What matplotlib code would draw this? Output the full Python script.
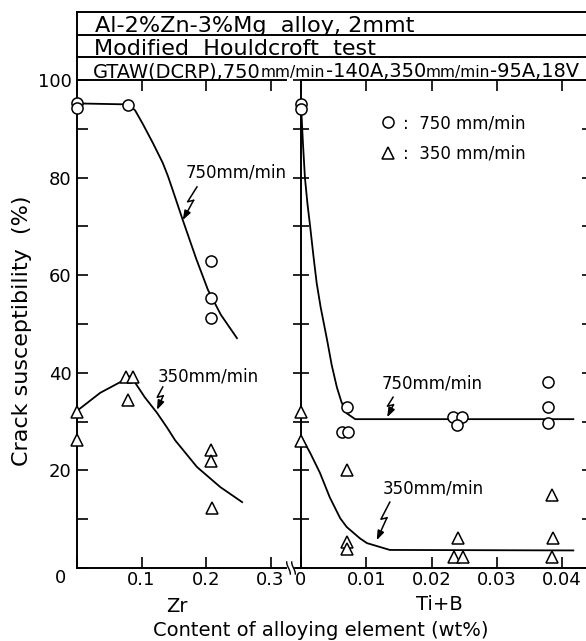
import matplotlib
matplotlib.use('Agg')
import matplotlib.pyplot as plt
from matplotlib.lines import Line2D
import numpy as np

# measured points, Zr panel
zr_750_x = [0, 0, 0.079, 0.208, 0.208, 0.208]
zr_750_y = [95.3, 94.3, 94.9, 62.9, 55.3, 51.2]
zr_350_x = [0, 0, 0.076, 0.087, 0.079, 0.208, 0.208, 0.210]
zr_350_y = [32, 26.2, 39.1, 39.1, 34.4, 24.2, 21.9, 12.3]

# hand drawn trend curves, Zr panel
zr_750_fit_x = [0, 0.079, 0.09, 0.102, 0.118, 0.133, 0.141, 0.148, 0.164, 0.185, 0.203, 0.223, 0.248]
zr_750_fit_y = [95.2, 95, 93.8, 91, 87, 83, 80.3, 77.6, 71.3, 63.3, 57, 51.9, 47.1]
zr_350_fit_x = [0, 0.036, 0.07, 0.082, 0.09, 0.105, 0.124, 0.14, 0.152, 0.186, 0.222, 0.256]
zr_350_fit_y = [32.2, 35.9, 38.3, 39.3, 38, 35, 31.8, 28.7, 26.2, 20.7, 16.6, 13.5]

# measured points, Ti+B panel
tib_750_x = [0, 0, 0.007, 0.0063, 0.0072, 0.0233, 0.0247, 0.0239, 0.0378, 0.0378, 0.0378]
tib_750_y = [95.1, 94.1, 33, 27.9, 27.9, 30.9, 30.9, 29.3, 38.1, 33, 29.7]
tib_350_x = [0, 0, 0.007, 0.007, 0.007, 0.024, 0.0234, 0.0248, 0.0385, 0.0386, 0.0385]
tib_350_y = [32, 26, 20.1, 5.3, 3.9, 6.1, 2.3, 2.3, 15, 6.1, 2.3]

# trend curves, Ti+B panel
tib_750_fit_x = [0, 0.0003, 0.0006, 0.001, 0.0014, 0.0019, 0.0024, 0.003, 0.004, 0.0047, 0.0055, 0.0062, 0.007, 0.0083, 0.0417]
tib_750_fit_y = [95, 87, 80, 74.5, 70, 64, 58.4, 53.5, 46.7, 41.6, 37, 34, 31.7, 30.5, 30.5]
tib_350_fit_x = [0, 0.0014, 0.0029, 0.0044, 0.006, 0.007, 0.009, 0.0101, 0.0136, 0.0417]
tib_350_fit_y = [27, 23.6, 19.5, 14.5, 10.2, 8.4, 6.1, 5.1, 3.7, 3.6]

zr_ticks = [0, 0.1, 0.2, 0.3]
zr_labels = ['', '0.1', '0.2', '0.3']
tib_ticks = [0, 0.01, 0.02, 0.03, 0.04]
tib_labels = ['0', '0.01', '0.02', '0.03', '0.04']
y_ticks = list(range(0, 101, 10))
y_labels = ['' if v in (0, 10, 30, 50, 70, 90) else str(v) for v in y_ticks]

header_rows = [
    [('Al-2%Zn-3%Mg  alloy, 2mmt', 1.0)],
    [('Modified  Houldcroft  test', 1.0)],
    [('GTAW(DCRP),750', 1.0), ('mm/min', 0.8), ('-140A,350', 1.0), ('mm/min', 0.8), ('-95A,18V', 1.0)],
]

W, H = 586, 641
fig = plt.figure(figsize=(W / 100, H / 100), dpi=100)
renderer = fig.canvas.get_renderer()


def fx(px):
    return px / W


def fy(py):
    return 1 - py / H


def fig_line(xs, ys, lw=1.4):
    fig.add_artist(Line2D([fx(x) for x in xs], [fy(y) for y in ys], color='black', lw=lw))


def bolt(ax, start, end):
    # lightning-style pointer used in the original drawing
    p0 = ax.transData.transform(start)
    p3 = ax.transData.transform(end)
    d = p3 - p0
    p1 = p0 + 0.45 * d + np.array([-3, 0])
    p2 = p1 + np.array([6, 1.5])
    inv = ax.transData.inverted()
    q = inv.transform(np.array([p0, p1, p2]))
    ax.plot(q[:, 0], q[:, 1], color='black', lw=1.1, clip_on=False)
    ax.annotate('', xy=end, xytext=q[2],
                arrowprops=dict(arrowstyle='-|>,head_length=0.55,head_width=0.2',
                                color='black', lw=1.1, shrinkA=0, shrinkB=0))


def put_row(pieces, x0, y_base, width):
    base = 10
    texts = [fig.text(0, 0, s, fontsize=base * r, va='baseline') for s, r in pieces]
    widths = [t.get_window_extent(renderer).width for t in texts]
    k = width / sum(widths)
    x = x0
    for t, (s, r), w in zip(texts, pieces, widths):
        t.set_fontsize(base * r * k)
        t.set_position((fx(x), fy(y_base)))
        x += w * k


ax1 = fig.add_axes([fx(77), fy(568), fx(286) - fx(77), fy(80) - fy(568)])
ax2 = fig.add_axes([fx(301), fy(568), fx(590) - fx(301), fy(80) - fy(568)])

ax1.set_xlim(0, (286 - 77) / 645)
ax2.set_xlim(0, (590 - 301) / 6530)
for ax in (ax1, ax2):
    ax.set_ylim(0, 100)
    for sp in ax.spines.values():
        sp.set_linewidth(1.4)
ax1.spines['right'].set_visible(False)

mk = dict(ls='none', mfc='white', mec='black', mew=1.1, clip_on=False, zorder=3)
ln = dict(color='black', lw=1.3, zorder=2, clip_on=False)

ax1.plot(zr_750_fit_x, zr_750_fit_y, **ln)
ax1.plot(zr_350_fit_x, zr_350_fit_y, **ln)
ax1.plot(zr_750_x, zr_750_y, marker='o', ms=8, **mk)
ax1.plot(zr_350_x, zr_350_y, marker='^', ms=8.5, **mk)

ax2.plot(tib_750_fit_x, tib_750_fit_y, **ln)
ax2.plot(tib_350_fit_x, tib_350_fit_y, **ln)
ax2.plot(tib_750_x, tib_750_y, marker='o', ms=8, **mk)
ax2.plot(tib_350_x, tib_350_y, marker='^', ms=8.5, **mk)

# ticks
ax1.set_xticks(zr_ticks)
ax1.set_xticklabels(zr_labels, fontsize=13)
ax1.set_yticks(y_ticks)
ax1.set_yticklabels(y_labels, fontsize=13)
ax1.tick_params(axis='x', direction='in', top=True, length=8, width=1.2, pad=2)
ax1.tick_params(axis='y', direction='in', length=8, width=1.2, pad=4)

ax2.set_xticks(tib_ticks)
ax2.set_xticklabels(tib_labels, fontsize=13)
ax2.set_yticks(y_ticks)
ax2.set_yticklabels([])
ax2.tick_params(axis='x', direction='in', top=True, length=8, width=1.2, pad=2)
ax2.tick_params(axis='y', direction='inout', left=True, right=True, length=12, width=1.2)

# curve labels
ax1.text(0.246, 81.1, '750mm/min', fontsize=12, ha='center', va='center')
bolt(ax1, (0.186, 78.1), (0.164, 71.3))
ax1.text(0.203, 39.3, '350mm/min', fontsize=12, ha='center', va='center')
bolt(ax1, (0.133, 37.1), (0.124, 32.4))
ax2.text(0.0201, 37.9, '750mm/min', fontsize=12, ha='center', va='center')
bolt(ax2, (0.0141, 35.0), (0.0132, 30.9))
ax2.text(0.0202, 16.2, '350mm/min', fontsize=12, ha='center', va='center')
bolt(ax2, (0.0136, 13.5), (0.0116, 5.7))

# legend
h1 = Line2D([], [], marker='o', ls='none', mfc='white', mec='black', ms=8, mew=1.1)
h2 = Line2D([], [], marker='^', ls='none', mfc='white', mec='black', ms=8.5, mew=1.1)
ax2.legend([h1, h2], [':  750 mm/min', ':  350 mm/min'], loc='upper left',
           bbox_to_anchor=(fx(380), fy(114)), bbox_transform=fig.transFigure,
           frameon=False, fontsize=12, handlelength=1.0, handletextpad=0.4,
           labelspacing=0.75, borderpad=0, borderaxespad=0)

# header boxes
for y in (12, 35, 57):
    fig_line([77, 586], [y, y])
fig_line([77, 77], [12, 80])
put_row(header_rows[0], 95, 32, 319)
put_row(header_rows[1], 94, 55, 282)
put_row(header_rows[2], 93, 77, 486)

# axis break between the panels
fig_line([296, 301], [568, 568])
for bx in (288.5, 293.5):
    t = np.linspace(-1, 1, 15)
    fig_line(bx + 1.8 * np.sin(t * 1.6) * -1, 568 - 6 * t, lw=1.0)

# axis titles
fig.text(fx(61), fy(578), '0', fontsize=13, ha='center', va='center')
fig.text(fx(177), fy(606), 'Zr', fontsize=14, ha='center', va='center')
fig.text(fx(439), fy(604), 'Ti+B', fontsize=14, ha='center', va='center')
fig.text(fx(321), fy(631), 'Content of alloying element (wt%)', fontsize=14, ha='center', va='center')
fig.text(fx(22), fy(331), 'Crack susceptibility  (%)', fontsize=16, rotation=90, ha='center', va='center')

fig.savefig('out.png', dpi=100)
